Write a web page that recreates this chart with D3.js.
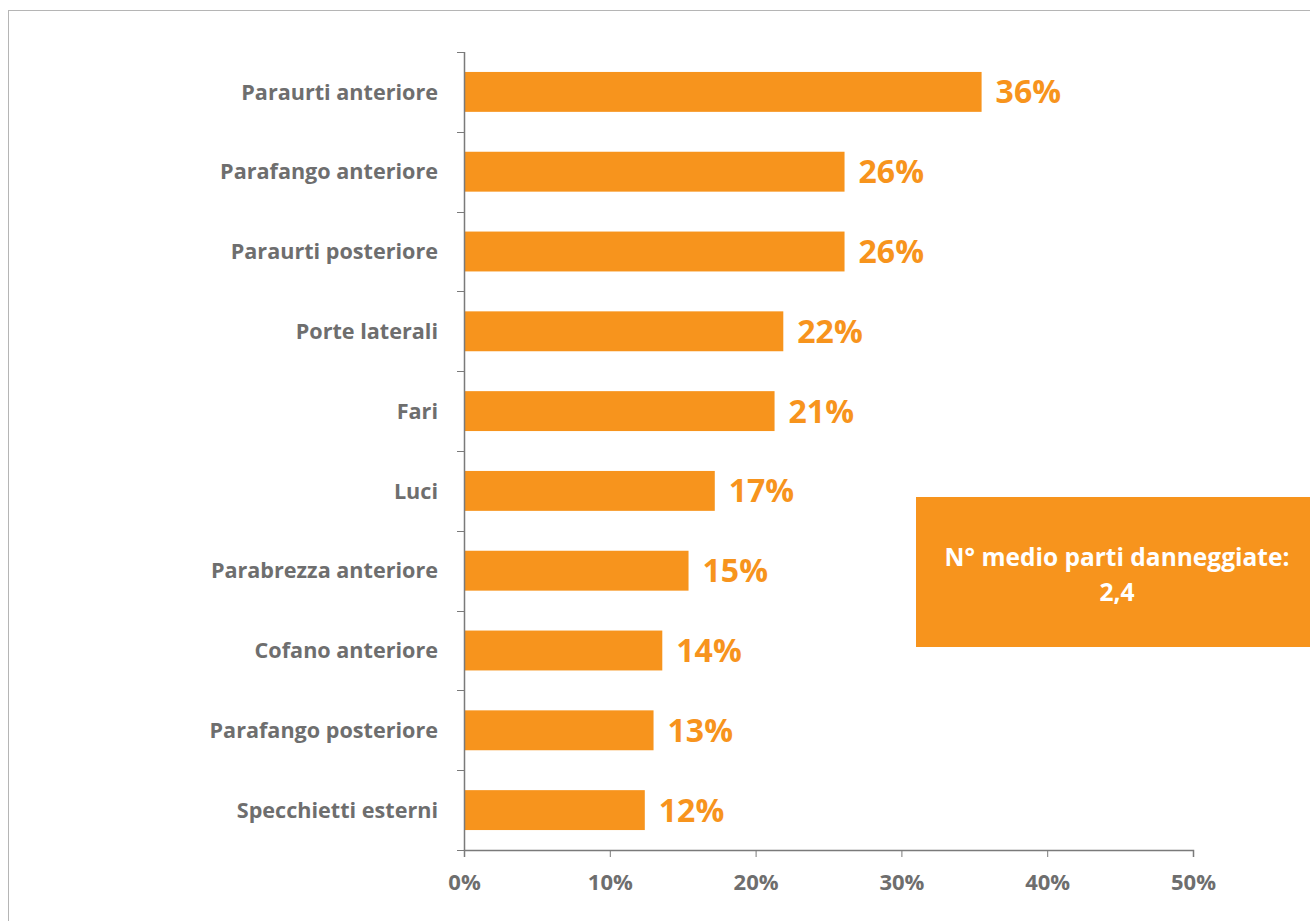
<!DOCTYPE html>
<html>
<head>
<meta charset="utf-8">
<script src="https://cdn.jsdelivr.net/npm/d3@7"></script>
<style>
  body { margin: 0; background: #fff; }
  svg { display: block; font-family: "Open Sans", Lato, sans-serif; }
</style>
</head>
<body>
<svg id="chart"></svg>
<script>
// data
const categories = ["Paraurti anteriore", "Parafango anteriore", "Paraurti posteriore", "Porte laterali",
  "Fari", "Luci", "Parabrezza anteriore", "Cofano anteriore", "Parafango posteriore", "Specchietti esterni"];
const values = [35.5, 26.1, 26.1, 21.9, 21.3, 17.2, 15.4, 13.6, 13.0, 12.4];
const valueLabels = ["36%", "26%", "26%", "22%", "21%", "17%", "15%", "14%", "13%", "12%"];
const xTicks = [0, 10, 20, 30, 40, 50];
const boxLines = ["N° medio parti danneggiate:", "2,4"];

const W = 1310, H = 921;
const orange = "#F7941D", grey = "#6e6e6e", axisCol = "#7a7a7a";
const margin = { top: 52, left: 464 };
const plotW = 729, plotH = 798;

const svg = d3.select("#chart").attr("width", W).attr("height", H);

// outer frame
svg.append("rect")
  .attr("x", 8.5).attr("y", 10.5)
  .attr("width", W).attr("height", H)
  .attr("fill", "none").attr("stroke", "#b5b5b5").attr("stroke-width", 1);

const g = svg.append("g").attr("transform", "translate(" + margin.left + "," + margin.top + ")");

const x = d3.scaleLinear().domain([0, 50]).range([0, plotW]);
const y = d3.scaleBand().domain(categories).range([0, plotH]).paddingInner(0.5).paddingOuter(0.25);

// bars
g.selectAll(".bar")
  .data(categories)
  .enter()
  .append("rect")
  .attr("class", "bar")
  .attr("x", 0)
  .attr("y", d => y(d))
  .attr("width", (d, i) => x(values[i]))
  .attr("height", y.bandwidth())
  .attr("fill", orange);

// value labels
g.selectAll(".val")
  .data(categories)
  .enter()
  .append("text")
  .attr("class", "val")
  .attr("x", (d, i) => x(values[i]) + 14)
  .attr("y", d => y(d) + y.bandwidth() / 2)
  .attr("dy", "0.36em")
  .style("font-size", "32px")
  .style("font-weight", "bold")
  .attr("fill", orange)
  .text((d, i) => valueLabels[i]);

// y axis: line with ticks at band boundaries
const step = plotH / categories.length;
g.append("line")
  .attr("x1", 0.5).attr("x2", 0.5).attr("y1", 0).attr("y2", plotH)
  .attr("stroke", axisCol).attr("stroke-width", 1.5);
g.selectAll(".ytick")
  .data(d3.range(categories.length + 1))
  .enter()
  .append("line")
  .attr("x1", -7).attr("x2", 0)
  .attr("y1", d => Math.round(d * step) + 0.5)
  .attr("y2", d => Math.round(d * step) + 0.5)
  .attr("stroke", axisCol).attr("stroke-width", 1);

g.selectAll(".ylab")
  .data(categories)
  .enter()
  .append("text")
  .attr("x", -26)
  .attr("y", d => y(d) + y.bandwidth() / 2)
  .attr("dy", "0.36em")
  .attr("text-anchor", "end")
  .style("font-size", "21.6px")
  .style("font-weight", "bold")
  .attr("fill", grey)
  .text(d => d);

// x axis
const xAxis = g.append("g")
  .attr("transform", "translate(0," + plotH + ")")
  .call(d3.axisBottom(x).tickValues(xTicks).tickSize(7).tickFormat(d => d + "%"));
xAxis.select(".domain").attr("stroke", axisCol).attr("stroke-width", 1.5);
xAxis.selectAll(".tick line").attr("stroke", axisCol);
xAxis.selectAll(".tick text")
  .attr("y", 24)
  .attr("dy", "0.71em")
  .style("font-size", "22px")
  .style("font-weight", "bold")
  .style("font-family", "'Open Sans', sans-serif")
  .attr("fill", grey);

// info box
svg.append("rect")
  .attr("x", 916).attr("y", 497)
  .attr("width", 400).attr("height", 150)
  .attr("fill", orange);
svg.selectAll(".box")
  .data(boxLines)
  .enter()
  .append("text")
  .attr("x", 1117)
  .attr("y", (d, i) => 557 + i * 35)
  .attr("dy", "0.36em")
  .attr("text-anchor", "middle")
  .style("font-size", "24.5px")
  .style("font-weight", "bold")
  .attr("fill", "#fff")
  .text(d => d);
</script>
</body>
</html>
